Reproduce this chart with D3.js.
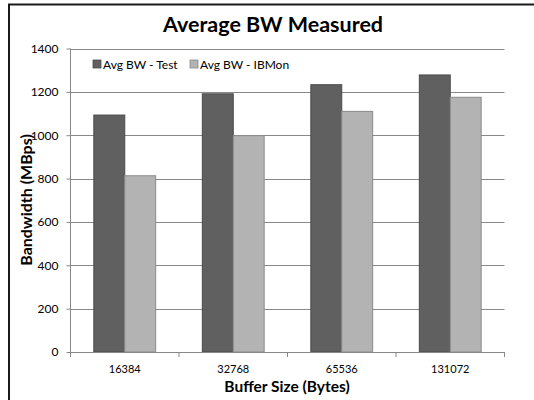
<!DOCTYPE html>
<html>
<head>
<meta charset="utf-8">
<script src="https://cdn.jsdelivr.net/npm/d3@7"></script>
<style>
  html, body { margin: 0; padding: 0; background: #fff; overflow: hidden; }
  svg { display: block; font-family: Lato, "Open Sans", sans-serif; }
</style>
</head>
<body>
<svg id="chart" width="534" height="400"></svg>
<script>
// Buffer sizes and the two measured bandwidth series (MBps)
const bufferSizes = ["16384", "32768", "65536", "131072"];
const seriesNames = ["Avg BW - Test", "Avg BW - IBMon"];
const avgTest = [1093, 1191, 1233, 1278];
const avgIBMon = [813, 998, 1110, 1175];
const yTicks = [0, 200, 400, 600, 800, 1000, 1200, 1400];

const fills = ["#606060", "#b3b3b3"];
const strokes = ["#4a4a4a", "#8a8a8a"];

const svg = d3.select("#chart");

// outer frame: only the top and left edges fall inside the canvas
const frame = svg.append("g").attr("stroke", "#1a1a1a").attr("stroke-width", 2);
frame.append("line").attr("x1", 8).attr("x2", 534).attr("y1", 4.5).attr("y2", 4.5);
frame.append("line").attr("x1", 9).attr("x2", 9).attr("y1", 4).attr("y2", 400);

const plotLeft = 70.5, plotRight = 504.5, plotTop = 48.5, plotBottom = 352;

const y = d3.scaleLinear().domain([0, 1400]).range([plotBottom, plotTop]);
const x0 = d3.scaleBand().domain(bufferSizes).range([plotLeft, plotRight])
  .paddingInner(0.43).paddingOuter(0.215);
const x1 = d3.scaleBand().domain(seriesNames).range([0, x0.bandwidth()]);

// gridlines
svg.append("g").selectAll("line").data(yTicks.filter(d => d > 0)).join("line")
  .attr("x1", plotLeft).attr("x2", plotRight)
  .attr("y1", d => Math.round(y(d)) + 0.5).attr("y2", d => Math.round(y(d)) + 0.5)
  .attr("stroke", "#888").attr("stroke-width", 1);

// bars
const rows = bufferSizes.map((b, i) => ({ b, vals: [avgTest[i], avgIBMon[i]] }));
const groups = svg.append("g").selectAll("g").data(rows).join("g")
  .attr("transform", d => `translate(${x0(d.b)},0)`);
groups.selectAll("rect").data(d => d.vals.map((v, k) => ({ v, k }))).join("rect")
  .attr("x", d => x1(seriesNames[d.k]))
  .attr("width", x1.bandwidth())
  .attr("y", d => y(d.v))
  .attr("height", d => y(0) - y(d.v))
  .attr("fill", d => fills[d.k])
  .attr("stroke", d => strokes[d.k])
  .attr("stroke-width", 1);

// y axis
const yAxis = d3.axisLeft(y).tickValues(yTicks).tickFormat(d3.format("d"))
  .tickSize(4).tickPadding(8);
const gy = svg.append("g").attr("transform", `translate(${plotLeft},0)`).call(yAxis);
gy.select(".domain").attr("stroke", "#888").attr("d", `M0,${plotTop}V${plotBottom + 0.5}`);
gy.selectAll(".tick line").attr("stroke", "#888");
gy.selectAll(".tick text").attr("font-size", 12).attr("fill", "#000")
  .attr("font-family", "Lato, sans-serif");

// x axis with ticks on category boundaries
const gx = svg.append("g");
gx.append("line").attr("x1", plotLeft).attr("x2", plotRight)
  .attr("y1", plotBottom + 0.5).attr("y2", plotBottom + 0.5).attr("stroke", "#888");
const boundaries = bufferSizes.map(b => x0(b) - x0.step() * 0.215).concat([plotRight]);
gx.selectAll("line.tk").data(boundaries).join("line").attr("class", "tk")
  .attr("x1", d => d).attr("x2", d => d)
  .attr("y1", plotBottom).attr("y2", plotBottom + 5).attr("stroke", "#888");
gx.selectAll("text").data(bufferSizes).join("text")
  .attr("x", d => x0(d) + x0.bandwidth() / 2)
  .attr("y", 372.5)
  .attr("text-anchor", "middle")
  .attr("font-size", 11)
  .text(d => d);

// title and axis titles
svg.append("text").attr("x", 273).attr("y", 32).attr("text-anchor", "middle")
  .attr("font-size", 21.5).attr("font-weight", "bold").text("Average BW Measured");
svg.append("text").attr("x", 287).attr("y", 391.5).attr("text-anchor", "middle")
  .attr("font-size", 15.5).attr("font-weight", "bold").text("Buffer Size (Bytes)");
svg.append("text").attr("transform", "translate(32,200) rotate(-90)")
  .attr("text-anchor", "middle")
  .attr("font-size", 16).attr("font-weight", "bold").text("Bandwidth (MBps)");

// legend
const lg = svg.append("g");
const legendX = [93, 190];
seriesNames.forEach((name, k) => {
  lg.append("rect").attr("x", legendX[k]).attr("y", 60).attr("width", 8).attr("height", 8)
    .attr("fill", fills[k]).attr("stroke", strokes[k]).attr("stroke-width", 0.8);
  lg.append("text").attr("x", legendX[k] + 10).attr("y", 68.5)
    .attr("font-size", 12).text(name);
});
</script>
</body>
</html>
